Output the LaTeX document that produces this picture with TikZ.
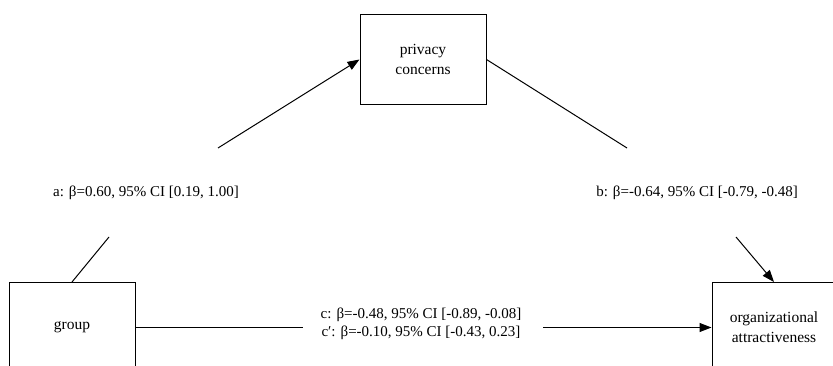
\documentclass[tikz,border=0pt]{standalone}
\usepackage{fontspec}
\setmainfont{Liberation Serif}
\usetikzlibrary{arrows.meta}
\begin{document}
\begin{tikzpicture}[x=1pt,y=-1pt,
  varbox/.style={draw, line width=1pt, minimum width=126pt, minimum height=90pt,
    inner sep=0pt, align=center, font=\fontsize{15.5}{20}\selectfont},
  lbl/.style={inner sep=0pt, align=center, font=\fontsize{15}{18}\selectfont},
  conn/.style={line width=1pt},
  arr/.style={line width=1pt, -{Triangle[length=12pt,width=9pt]}}]
\clip (0,0) rectangle (833,366);
\fill[white] (0,0) rectangle (833,366);
\node[varbox] (priv) at (423,59.5) {privacy\\concerns};
\node[varbox] (group) at (72,327.5) {group};
\node[varbox, minimum width=124pt] (org) at (774,327.5) {organizational\\attractiveness};
\node[lbl] (la) at (146,193) {a: β=0.60, 95\% CI [0.19, 1.00]};
\node[lbl] (lb) at (697,193) {b: β=-0.64, 95\% CI [-0.79, -0.48]};
\node[lbl] (lc) at (421,324) {c: β=-0.48, 95\% CI [-0.89, -0.08]\\c′: β=-0.10, 95\% CI [-0.43, 0.23]};
\coordinate (a1) at (109,237);
\coordinate (a2) at (218,148);
\coordinate (b1) at (627,148);
\coordinate (b2) at (736,237);
\coordinate (c1) at (303,327.5);
\coordinate (c2) at (543,327.5);
\draw[conn] (group.north) -- (a1);
\draw[arr] (a2) -- (priv.west);
\draw[conn] (priv.east) -- (b1);
\draw[arr] (b2) -- (org.north);
\draw[conn] (group.east) -- (c1);
\draw[arr] (c2) -- (org.west);
\end{tikzpicture}
\end{document}
